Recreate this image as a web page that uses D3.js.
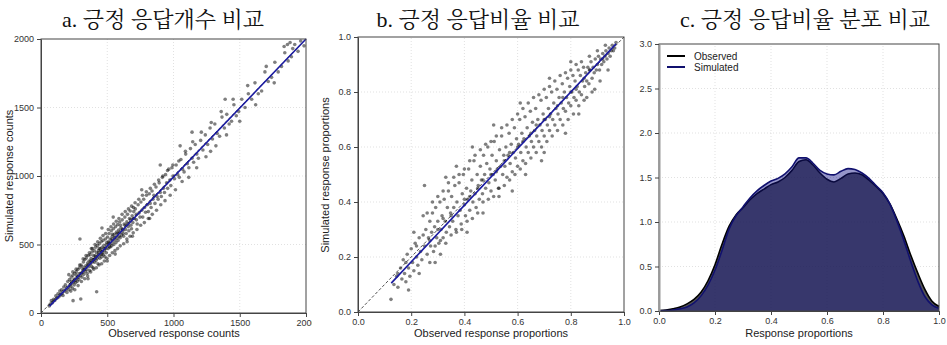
<!DOCTYPE html>
<html><head><meta charset="utf-8">
<script src="https://cdn.jsdelivr.net/npm/d3@7"></script>
<style>
body{margin:0;background:#fff;}
svg text{font-family:"Liberation Sans",Arial,sans-serif;}
.title{font-family:"Liberation Serif","Noto Serif CJK KR","Noto Sans CJK KR",serif;font-size:22px;fill:#111;}
</style></head>
<body><svg id="c" width="947" height="345"></svg>
<script>
// ---- data ----
const panelTitles = ["a. 긍정 응답개수 비교", "b. 긍정 응답비율 비교", "c. 긍정 응답비율 분포 비교"];
const countTicks = [0, 500, 1000, 1500, 2000];
const propTicks = [0, 0.2, 0.4, 0.6, 0.8, 1.0];
const densityTicks = [0, 0.5, 1.0, 1.5, 2.0, 2.5, 3.0];
const countFit = [[65, 50], [2000, 2000]];
const propFit = [[0.125, 0.105], [0.97, 0.975]];
const countPairs = [
[62,52],[70,66],[78,90],[86,74],[95,100],[104,92],[112,125],[120,108],[128,140],[135,118],[142,160],[148,132],[155,170],[160,145],[166,128],[172,190],[178,160],[184,205],[190,172],[196,150],
[202,230],[206,188],[211,170],[215,245],[219,205],[224,196],[228,262],[232,218],[237,180],[241,275],[246,228],[250,205],[254,290],[258,240],[262,222],[266,300],[270,255],[274,232],[278,318],[282,262],[286,245],[290,330],[294,540],[297,272],[242,90],[300,102],
[302,350],[305,290],[309,262],[312,338],[316,300],[320,372],[323,282],[327,318],[331,390],[334,305],[338,345],[342,402],[345,318],[349,290],[352,365],[356,420],[360,338],[363,380],[367,310],[371,425],[374,360],[378,398],[382,340],[385,445],[389,372],[393,330],[396,420],[399,390],[355,250],[380,470],
[402,455],[405,370],[409,418],[412,480],[416,385],[419,440],[423,400],[426,492],[430,360],[433,455],[437,418],[440,505],[444,400],[447,468],[451,430],[454,520],[458,410],[461,480],[465,445],[468,530],[472,425],[475,495],[479,455],[482,410],[486,540],[489,470],[493,440],[496,515],[420,155],[460,620],[500,380],
[502,555],[506,470],[510,520],[514,580],[518,485],[522,540],[526,505],[530,600],[534,490],[538,560],[542,520],[546,615],[550,500],[554,575],[558,535],[562,630],[566,515],[570,590],[574,548],[578,645],[582,530],[586,605],[590,560],[594,665],[598,550],[545,700],[560,430],
[603,620],[608,570],[613,680],[618,600],[623,560],[628,650],[633,700],[638,610],[643,580],[648,665],[653,720],[658,630],[663,600],[668,690],[673,745],[678,640],[683,615],[688,710],[693,660],[698,770],[650,520],[690,560],
[705,690],[712,760],[719,720],[726,650],[733,790],[740,730],[747,700],[754,810],[761,750],[768,700],[775,830],[782,770],[789,735],[796,860],[803,790],[810,740],[817,870],[824,800],[831,770],[838,890],[845,830],[760,900],[820,690],
[852,860],[860,800],[868,920],[876,850],[884,830],[892,950],[900,880],[908,850],[916,990],[924,910],[932,880],[940,1010],[948,950],[956,910],[964,1050],[972,970],[980,930],[988,1060],[996,1000],[900,1080],
[1008,980],[1020,1080],[1032,1010],[1044,990],[1056,1120],[1068,1050],[1080,1030],[1092,1160],[1104,1090],[1116,1060],[1128,1200],[1140,1130],[1152,1100],[1164,1230],[1176,1160],[1188,1130],[1050,1220],[1140,1320],
[1205,1260],[1222,1190],[1240,1300],[1258,1230],[1276,1350],[1294,1270],[1312,1380],[1330,1310],[1348,1290],[1366,1430],[1384,1350],[1402,1450],[1420,1380],[1438,1400],[1456,1520],[1474,1440],[1492,1470],[1280,1180],[1390,1560],
[1515,1560],[1540,1500],[1565,1600],[1590,1560],[1615,1680],[1640,1600],[1665,1620],[1690,1760],[1715,1690],[1740,1720],[1765,1830],[1790,1760],[1815,1800],[1840,1900],[1865,1840],[1890,1870],[1915,1960],[1940,1910],[1960,1985],[1985,1950],[1860,1960],[1880,1975],[1900,1930],[1835,1945],
[210,280],[225,160],[240,300],[255,170],[265,320],[280,200],[292,350],[305,230],[318,395],[330,250],[340,420],[352,270],[365,440],[375,300],[388,470],[398,320],[408,500],[418,330],[428,520],[438,350],[448,545],[458,360],[468,565],[478,380],[488,580],[498,400],[508,610],[518,420],[528,630],[538,440],[548,650],[558,455],[568,670],[578,470],[588,690],[598,490],[612,720],[624,505],[636,740],[648,540],[660,760],[672,560],[684,780],[696,585],[710,805],[724,610],[738,830],[752,640],[766,860],[780,660],[795,885],[810,690],[825,910],[840,720],[856,940],[872,750],[888,970],[904,790],[920,1000],[936,820],[955,1040],[975,860],[995,1080],[1015,900],[1040,1110],[1065,960],[1090,1180],[1115,990],[1145,1250],[1175,1060],[1210,1320],[1245,1140],[1285,1390],[1320,1220],[1360,1470],[1400,1300],[1450,1560],[1500,1400],[1560,1660],[1620,1520],[1700,1800],[1760,1680],
[315,318],[335,330],[355,352],[375,380],[395,392],[415,410],[435,440],[455,452],[475,470],[495,500],[515,512],[535,540],[555,550],[575,580],[595,590],[615,612],[635,640],[655,650],[675,680],[695,690],[250,248],[270,275],[290,288],[230,232],[440,470],[460,430],[520,480],[540,575],[600,640],[620,580],[700,740],[720,680]
];
const propPairs = [
[0.124,0.046],[0.135,0.10],[0.145,0.13],[0.15,0.09],[0.16,0.16],[0.165,0.12],[0.17,0.19],[0.175,0.14],[0.18,0.11],[0.185,0.21],[0.19,0.16],[0.195,0.13],[0.20,0.23],[0.205,0.18],[0.21,0.15],[0.215,0.25],[0.22,0.20],[0.225,0.17],[0.23,0.27],[0.235,0.22],[0.24,0.19],[0.245,0.35],[0.25,0.46],[0.245,0.28],[0.25,0.24],[0.19,0.08],[0.21,0.29],[0.23,0.14],
[0.255,0.30],[0.26,0.21],[0.265,0.27],[0.27,0.33],[0.273,0.24],[0.277,0.29],[0.28,0.36],[0.284,0.22],[0.288,0.31],[0.292,0.38],[0.296,0.27],[0.30,0.33],[0.304,0.25],[0.308,0.40],[0.312,0.30],[0.316,0.35],[0.32,0.27],[0.324,0.41],[0.328,0.33],[0.332,0.29],[0.336,0.38],[0.34,0.44],[0.344,0.31],[0.348,0.36],[0.29,0.18],[0.33,0.49],[0.31,0.21],
[0.352,0.42],[0.356,0.33],[0.36,0.38],[0.364,0.46],[0.368,0.30],[0.372,0.40],[0.376,0.35],[0.38,0.47],[0.384,0.37],[0.388,0.32],[0.392,0.43],[0.396,0.50],[0.40,0.39],[0.404,0.35],[0.408,0.45],[0.412,0.41],[0.416,0.52],[0.42,0.37],[0.424,0.44],[0.428,0.48],[0.432,0.40],[0.436,0.55],[0.44,0.43],[0.444,0.38],[0.448,0.50],[0.37,0.53],[0.41,0.29],[0.43,0.60],
[0.452,0.46],[0.456,0.41],[0.46,0.53],[0.464,0.48],[0.468,0.43],[0.472,0.57],[0.476,0.50],[0.48,0.45],[0.484,0.54],[0.488,0.60],[0.492,0.47],[0.496,0.52],[0.50,0.44],[0.504,0.57],[0.508,0.50],[0.512,0.62],[0.516,0.48],[0.52,0.55],[0.524,0.52],[0.528,0.45],[0.532,0.59],[0.536,0.53],[0.54,0.64],[0.544,0.50],[0.548,0.57],[0.47,0.36],[0.51,0.68],[0.53,0.42],
[0.552,0.53],[0.556,0.60],[0.56,0.49],[0.564,0.57],[0.568,0.65],[0.572,0.54],[0.576,0.61],[0.58,0.51],[0.584,0.58],[0.588,0.67],[0.592,0.56],[0.596,0.63],[0.60,0.53],[0.604,0.61],[0.608,0.70],[0.612,0.58],[0.616,0.65],[0.62,0.55],[0.624,0.63],[0.628,0.71],[0.632,0.60],[0.636,0.67],[0.64,0.58],[0.644,0.64],[0.648,0.73],[0.58,0.44],[0.61,0.76],[0.63,0.50],
[0.652,0.62],[0.656,0.69],[0.66,0.60],[0.664,0.66],[0.668,0.74],[0.672,0.64],[0.676,0.70],[0.68,0.62],[0.684,0.68],[0.688,0.77],[0.692,0.66],[0.696,0.72],[0.70,0.64],[0.704,0.70],[0.708,0.78],[0.712,0.68],[0.716,0.74],[0.72,0.66],[0.724,0.72],[0.728,0.80],[0.732,0.70],[0.736,0.76],[0.74,0.68],[0.744,0.74],[0.748,0.81],[0.69,0.55],[0.72,0.85],[0.70,0.58],
[0.752,0.72],[0.756,0.78],[0.76,0.70],[0.764,0.76],[0.768,0.83],[0.772,0.74],[0.776,0.80],[0.78,0.73],[0.784,0.78],[0.788,0.85],[0.792,0.76],[0.796,0.82],[0.80,0.75],[0.804,0.80],[0.808,0.86],[0.812,0.78],[0.816,0.84],[0.82,0.77],[0.824,0.82],[0.828,0.88],[0.832,0.80],[0.836,0.86],[0.84,0.79],[0.844,0.84],[0.848,0.89],[0.78,0.65],[0.80,0.91],[0.83,0.72],
[0.852,0.82],[0.856,0.87],[0.86,0.84],[0.864,0.89],[0.868,0.83],[0.872,0.88],[0.876,0.91],[0.88,0.85],[0.884,0.89],[0.888,0.87],[0.892,0.92],[0.896,0.88],[0.90,0.90],[0.904,0.93],[0.908,0.88],[0.912,0.92],[0.916,0.90],[0.92,0.94],[0.924,0.91],[0.928,0.93],[0.932,0.95],[0.936,0.92],[0.94,0.94],[0.944,0.96],[0.948,0.93],[0.952,0.95],[0.956,0.97],[0.96,0.95],[0.965,0.96],[0.97,0.98],[0.86,0.78],[0.89,0.81],
[0.26,0.36],[0.27,0.18],[0.28,0.40],[0.29,0.24],[0.30,0.42],[0.31,0.26],[0.32,0.44],[0.33,0.25],[0.34,0.47],[0.35,0.28],[0.36,0.49],[0.37,0.29],[0.38,0.50],[0.39,0.30],[0.40,0.52],[0.41,0.33],[0.42,0.55],[0.43,0.34],[0.44,0.57],[0.45,0.36],[0.46,0.59],[0.47,0.40],[0.48,0.61],[0.49,0.41],[0.50,0.62],[0.51,0.42],[0.52,0.64],[0.53,0.45],[0.54,0.67],[0.55,0.46],[0.56,0.68],[0.57,0.48],[0.58,0.70],[0.59,0.50],[0.60,0.72],[0.61,0.52],[0.62,0.74],[0.63,0.54],[0.64,0.76],[0.65,0.56],[0.66,0.78],[0.67,0.58],[0.68,0.79],[0.69,0.60],[0.70,0.81],[0.71,0.62],[0.72,0.82],[0.73,0.64],[0.74,0.84],[0.75,0.66],[0.76,0.86],[0.77,0.68],[0.78,0.87],[0.79,0.70],[0.80,0.88],[0.81,0.72],[0.82,0.90],[0.83,0.75],[0.84,0.91],[0.85,0.77],[0.87,0.93],[0.88,0.80],[0.90,0.95],[0.91,0.84],[0.93,0.97],[0.94,0.88],
[0.30,0.30],[0.35,0.35],[0.40,0.41],[0.45,0.45],[0.50,0.50],[0.55,0.55],[0.60,0.60],[0.65,0.65],[0.70,0.70],[0.75,0.75],[0.80,0.80],[0.85,0.85],[0.32,0.34],[0.42,0.42],[0.47,0.48],[0.52,0.51],[0.57,0.58],[0.62,0.62],[0.67,0.68],[0.72,0.71],[0.77,0.78],[0.82,0.81],[0.87,0.88],[0.92,0.92],[0.22,0.24],[0.27,0.26],[0.18,0.18],[0.15,0.14]
];
const densityX = [0,0.025,0.05,0.075,0.1,0.125,0.15,0.175,0.2,0.225,0.25,0.275,0.3,0.325,0.35,0.375,0.4,0.425,0.45,0.475,0.5,0.525,0.55,0.575,0.6,0.625,0.65,0.675,0.7,0.725,0.75,0.775,0.8,0.825,0.85,0.875,0.9,0.925,0.95,0.975,1.0];
const densityObserved = [0.005,0.01,0.025,0.045,0.08,0.13,0.21,0.34,0.52,0.75,0.95,1.08,1.16,1.25,1.32,1.37,1.42,1.45,1.50,1.58,1.68,1.70,1.64,1.55,1.48,1.45,1.49,1.54,1.55,1.53,1.47,1.40,1.32,1.20,1.03,0.84,0.62,0.42,0.24,0.11,0.05];
const densitySimulated = [0.003,0.005,0.012,0.025,0.045,0.09,0.17,0.29,0.46,0.68,0.92,1.07,1.17,1.27,1.35,1.41,1.46,1.49,1.54,1.62,1.72,1.72,1.66,1.58,1.54,1.53,1.57,1.60,1.59,1.55,1.49,1.41,1.33,1.20,1.01,0.79,0.55,0.33,0.16,0.07,0.03];
const legendLabels = ["Observed", "Simulated"];

// ---- drawing ----
const svg = d3.select("#c");
const NAVY = "#10106e";
const AX = "#444";

svg.append("defs").append("clipPath").attr("id", "clipA")
  .append("rect").attr("x", 0).attr("y", 0).attr("width", 312).attr("height", 345);

function frame(g, x, y, xt, yt) {
  g.append("g").selectAll("line").data(xt.slice(1, -1)).join("line")
    .attr("x1", d => x(d)).attr("x2", d => x(d)).attr("y1", y.range()[0]).attr("y2", y.range()[1])
    .attr("stroke", "#d4d4d4").attr("stroke-width", 0.7).attr("stroke-dasharray", "1,2");
  g.append("g").selectAll("line").data(yt.slice(1, -1)).join("line")
    .attr("y1", d => y(d)).attr("y2", d => y(d)).attr("x1", x.range()[0]).attr("x2", x.range()[1])
    .attr("stroke", "#d4d4d4").attr("stroke-width", 0.7).attr("stroke-dasharray", "1,2");
}
function axes(g, x, y, xt, yt, fmtX, fmtY, grayLeft) {
  const [x0, x1] = x.range(), [y0, y1] = y.range();
  g.append("rect").attr("x", x0).attr("y", y1).attr("width", x1 - x0).attr("height", y0 - y1)
    .attr("fill", "none").attr("stroke", AX).attr("stroke-width", 1);
  const xa = g.append("g").attr("transform", `translate(0,${y0})`)
    .call(d3.axisBottom(x).tickValues(xt).tickFormat(fmtX).tickSize(4).tickSizeOuter(0));
  const ya = g.append("g").attr("transform", `translate(${x0},0)`)
    .call(d3.axisLeft(y).tickValues(yt).tickFormat(fmtY).tickSize(4).tickSizeOuter(0));
  [xa, ya].forEach(a => {
    a.selectAll("text").attr("font-size", 9).attr("fill", "#333").attr("font-family", "Liberation Sans, Arial, sans-serif");
    a.selectAll("line").attr("stroke", AX);
    a.select(".domain").attr("stroke", AX);
  });
  if (grayLeft) ya.select(".domain").attr("stroke", "#999").attr("stroke-width", 2);
}
function axisTitle(txt, xp, yp, rot) {
  const t = svg.append("text").attr("text-anchor", "middle").attr("font-size", 11).attr("fill", "#222").text(txt);
  if (rot) t.attr("transform", `translate(${xp},${yp}) rotate(-90)`);
  else t.attr("x", xp).attr("y", yp);
}

// Panel a
{
  const x = d3.scaleLinear().domain([0, 2000]).range([41, 306]);
  const y = d3.scaleLinear().domain([0, 2000]).range([313, 39]);
  const g = svg.append("g").attr("clip-path", "url(#clipA)");
  frame(g, x, y, countTicks, countTicks);
  g.append("line").attr("x1", x(0)).attr("y1", y(0)).attr("x2", x(2000)).attr("y2", y(2000))
    .attr("stroke", "#222").attr("stroke-width", 0.8).attr("stroke-dasharray", "3,2");
  g.append("g").selectAll("circle").data(countPairs).join("circle")
    .attr("cx", d => x(d[0])).attr("cy", d => y(d[1])).attr("r", 1.8)
    .attr("fill", "#000").attr("fill-opacity", 0.5);
  g.append("path").datum(countFit).attr("d", d3.line().x(d => x(d[0])).y(d => y(d[1])))
    .attr("stroke", "#1a1aa0").attr("stroke-width", 1.6).attr("fill", "none");
  axes(g, x, y, countTicks, countTicks, d3.format("d"), d3.format("d"));
  axisTitle("Observed response counts", 174, 337);
  axisTitle("Simulated response counts", 13, 176, true);
  svg.append("text").attr("class", "title").attr("x", 163).attr("y", 27).attr("text-anchor", "middle").text(panelTitles[0]);
}
// Panel b
{
  const x = d3.scaleLinear().domain([0, 1]).range([358, 624]);
  const y = d3.scaleLinear().domain([0, 1]).range([312, 37]);
  const g = svg.append("g");
  frame(g, x, y, propTicks, propTicks);
  g.append("line").attr("x1", x(0)).attr("y1", y(0)).attr("x2", x(1)).attr("y2", y(1))
    .attr("stroke", "#222").attr("stroke-width", 0.8).attr("stroke-dasharray", "3,2");
  g.append("g").selectAll("circle").data(propPairs).join("circle")
    .attr("cx", d => x(d[0])).attr("cy", d => y(d[1])).attr("r", 1.8)
    .attr("fill", "#000").attr("fill-opacity", 0.5);
  g.append("path").datum(propFit).attr("d", d3.line().x(d => x(d[0])).y(d => y(d[1])))
    .attr("stroke", "#1a1aa0").attr("stroke-width", 1.6).attr("fill", "none");
  axes(g, x, y, propTicks, propTicks, d3.format(".1f"), d3.format(".1f"));
  axisTitle("Observed response proportions", 491, 337);
  axisTitle("Simulated response proportions", 329, 175, true);
  svg.append("text").attr("class", "title").attr("x", 478).attr("y", 27).attr("text-anchor", "middle").text(panelTitles[1]);
}
// Panel c
{
  const x = d3.scaleLinear().domain([0, 1]).range([659, 939]);
  const y = d3.scaleLinear().domain([0, 3]).range([311, 44]);
  const g = svg.append("g");
  frame(g, x, y, propTicks, densityTicks);
  const area = vals => d3.area().x((d, i) => x(densityX[i])).y0(y(0)).y1(d => y(d)).curve(d3.curveMonotoneX)(vals);
  const line = vals => d3.line().x((d, i) => x(densityX[i])).y(d => y(d)).curve(d3.curveMonotoneX)(vals);
  g.append("path").attr("d", area(densityObserved)).attr("fill", "#1e1e1e").attr("fill-opacity", 0.76);
  g.append("path").attr("d", line(densityObserved)).attr("fill", "none").attr("stroke", "#000").attr("stroke-width", 1.6);
  g.append("path").attr("d", area(densitySimulated)).attr("fill", "#14148a").attr("fill-opacity", 0.45);
  g.append("path").attr("d", line(densitySimulated)).attr("fill", "none").attr("stroke", NAVY).attr("stroke-width", 1.6);
  axes(g, x, y, propTicks, densityTicks, d3.format(".1f"), d3.format(".1f"), true);
  axisTitle("Response proportions", 799, 337);
  const lg = g.append("g");
  [["#000", legendLabels[0], 56], [NAVY, legendLabels[1], 67]].forEach(([c, t, yy]) => {
    lg.append("line").attr("x1", 667).attr("x2", 685).attr("y1", yy).attr("y2", yy).attr("stroke", c).attr("stroke-width", 2);
    lg.append("text").attr("x", 694).attr("y", yy + 3.5).attr("font-size", 10).attr("fill", "#222").text(t);
  });
  svg.append("text").attr("class", "title").attr("x", 805).attr("y", 27).attr("text-anchor", "middle").text(panelTitles[2]);
}
</script></body></html>
